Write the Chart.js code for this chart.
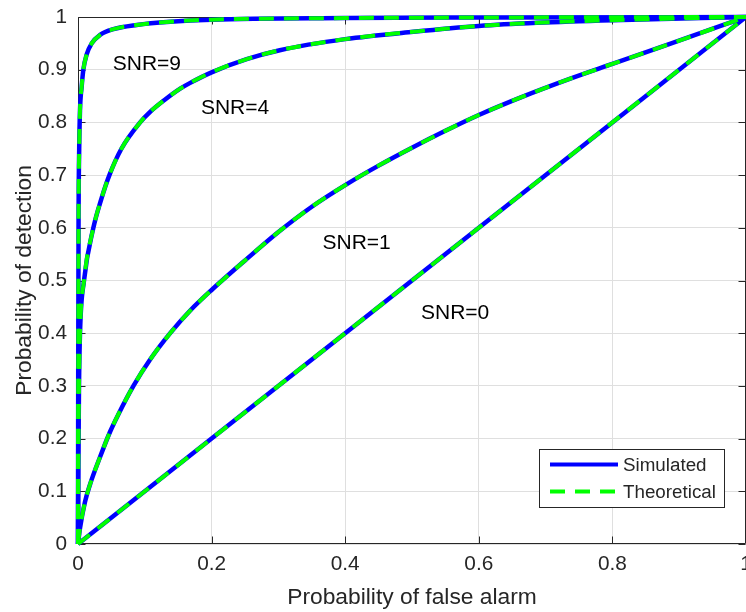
<!DOCTYPE html>
<html>
<head>
<meta charset="utf-8">
<script src="https://cdn.jsdelivr.net/npm/chart.js@4.4.1/dist/chart.umd.min.js"></script>
<style>
  html, body { margin: 0; padding: 0; background: #ffffff; }
  canvas { display: block; }
</style>
</head>
<body>
<canvas id="roc" width="746" height="612"></canvas>
<script>
// ROC curves of the detector: probability of detection against probability of false alarm
const snrLevels = [9, 4, 1, 0];

const pfaSnr9 = [0, 0.0003, 0.0008, 0.0018, 0.003, 0.0055, 0.008, 0.013, 0.0205, 0.033, 0.053, 0.088, 0.138, 0.2, 0.4, 0.6, 1];
const pdSnr9  = [0, 0.3, 0.6, 0.75, 0.823, 0.868, 0.9, 0.929, 0.95, 0.966, 0.977, 0.985, 0.991, 0.995, 0.998, 0.999, 1];

const pfaSnr4 = [0, 0.0005, 0.0015, 0.003, 0.009, 0.023, 0.035, 0.047, 0.065, 0.093, 0.108, 0.13, 0.153, 0.168, 0.2, 0.2525, 0.302, 0.4, 0.502, 0.6, 0.687, 0.8, 1];
const pdSnr4  = [0, 0.15, 0.3, 0.4, 0.5, 0.6, 0.655, 0.7, 0.75, 0.8, 0.82, 0.843, 0.864, 0.875, 0.895, 0.92, 0.937, 0.958, 0.972, 0.983, 0.989, 0.994, 1];

const pfaSnr1 = [0, 0.003, 0.0105, 0.018, 0.033, 0.048, 0.06, 0.083, 0.108, 0.138, 0.168, 0.2, 0.25, 0.3, 0.35, 0.4, 0.45, 0.5, 0.55, 0.6, 0.662, 0.737, 0.8, 0.886, 1];
const pdSnr1  = [0, 0.03, 0.08, 0.113, 0.165, 0.213, 0.245, 0.3, 0.35, 0.4, 0.443, 0.482, 0.538, 0.592, 0.64, 0.681, 0.718, 0.752, 0.784, 0.814, 0.847, 0.883, 0.911, 0.949, 1];

const pfaSnr0 = [0, 0.2, 0.4, 0.6, 0.8, 1];
const pdSnr0  = [0, 0.2, 0.4, 0.6, 0.8, 1];

const seriesNames = ['Simulated', 'Theoretical'];
const xTickLabels = ['0', '0.2', '0.4', '0.6', '0.8', '1'];
const yTickLabels = ['0', '0.1', '0.2', '0.3', '0.4', '0.5', '0.6', '0.7', '0.8', '0.9', '1'];
const xTitle = 'Probability of false alarm';
const yTitle = 'Probability of detection';

// curve annotations, anchored in data coordinates (left edge, vertical middle)
const snrLabelText = ['SNR=9', 'SNR=4', 'SNR=1', 'SNR=0'];
const snrLabelPfa  = [0.052, 0.184, 0.366, 0.5135];
const snrLabelPd   = [0.911, 0.826, 0.570, 0.438];

const curves = [
  { pfa: pfaSnr9, pd: pdSnr9 },
  { pfa: pfaSnr4, pd: pdSnr4 },
  { pfa: pfaSnr1, pd: pdSnr1 },
  { pfa: pfaSnr0, pd: pdSnr0 }
];

const FONT = "'Liberation Sans', Arial, Helvetica, sans-serif";
const AXIS_COLOR = '#262626';
const SIM_COLOR = '#0000ff';
const THEO_COLOR = '#00ff00';
const SIM_WIDTH = 4.5;
const THEO_WIDTH = 4;
const THEO_DASH = [15, 10];

const toPoints = c => c.pfa.map((x, i) => ({ x: x, y: c.pd[i] }));

const datasets = [];
curves.forEach((c, k) => {
  datasets.push({
    label: seriesNames[0] + ' SNR=' + snrLevels[k],
    data: toPoints(c),
    borderColor: SIM_COLOR,
    borderWidth: SIM_WIDTH,
    showLine: true,
    pointRadius: 0,
    cubicInterpolationMode: 'monotone',
    clip: false,
    order: 2
  });
});
curves.forEach((c, k) => {
  datasets.push({
    label: seriesNames[1] + ' SNR=' + snrLevels[k],
    data: toPoints(c),
    borderColor: THEO_COLOR,
    borderWidth: THEO_WIDTH,
    borderDash: THEO_DASH,
    showLine: true,
    pointRadius: 0,
    cubicInterpolationMode: 'monotone',
    clip: false,
    order: 1
  });
});

// axes box with inward tick marks on all four sides
const boxPlugin = {
  id: 'axesBox',
  beforeDatasetsDraw(chart) {
    const { ctx, chartArea: a, scales: { x, y } } = chart;
    const L = a.left + 0.5, R = a.right - 0.5, T = a.top + 0.5, B = a.bottom - 0.5;
    const tl = 7;
    ctx.save();
    ctx.strokeStyle = AXIS_COLOR;
    ctx.lineWidth = 1;
    ctx.beginPath();
    ctx.rect(L, T, R - L, B - T);
    x.ticks.forEach(t => {
      const px = Math.round(x.getPixelForValue(t.value)) + 0.5;
      ctx.moveTo(px, B); ctx.lineTo(px, B - tl);
      ctx.moveTo(px, T); ctx.lineTo(px, T + tl);
    });
    y.ticks.forEach(t => {
      const py = Math.round(y.getPixelForValue(t.value)) + 0.5;
      ctx.moveTo(L, py); ctx.lineTo(L + tl, py);
      ctx.moveTo(R, py); ctx.lineTo(R - tl, py);
    });
    ctx.stroke();
    ctx.restore();
  }
};

// SNR annotations and the legend
const overlayPlugin = {
  id: 'overlay',
  afterDraw(chart) {
    const { ctx, scales: { x, y } } = chart;
    ctx.save();
    ctx.fillStyle = '#000000';
    ctx.font = '21px ' + FONT;
    ctx.textAlign = 'left';
    ctx.textBaseline = 'middle';
    snrLabelText.forEach((s, i) => {
      ctx.fillText(s, x.getPixelForValue(snrLabelPfa[i]), y.getPixelForValue(snrLabelPd[i]));
    });

    // legend
    const bx = 539.5, by = 449.5, bw = 185, bh = 58;
    ctx.fillStyle = '#ffffff';
    ctx.fillRect(bx, by, bw, bh);
    ctx.strokeStyle = AXIS_COLOR;
    ctx.lineWidth = 1;
    ctx.strokeRect(bx, by, bw, bh);

    const rows = [
      { name: seriesNames[0], color: SIM_COLOR, width: SIM_WIDTH - 0.5, dash: [] },
      { name: seriesNames[1], color: THEO_COLOR, width: THEO_WIDTH, dash: THEO_DASH }
    ];
    rows.forEach((r, i) => {
      const ly = by + 15 + i * 27;
      ctx.beginPath();
      ctx.setLineDash(r.dash);
      ctx.strokeStyle = r.color;
      ctx.lineWidth = r.width;
      ctx.moveTo(550, ly);
      ctx.lineTo(618, ly);
      ctx.stroke();
      ctx.setLineDash([]);
      ctx.fillStyle = AXIS_COLOR;
      ctx.font = '18.8px ' + FONT;
      ctx.textAlign = 'left';
      ctx.textBaseline = 'middle';
      ctx.fillText(r.name, 623, ly + 1);
    });
    ctx.restore();
  }
};

new Chart(document.getElementById('roc'), {
  type: 'scatter',
  data: { datasets: datasets },
  options: {
    responsive: false,
    animation: false,
    devicePixelRatio: 1,
    layout: { padding: { top: 17, right: 0, bottom: 0, left: 0 } },
    plugins: {
      legend: { display: false },
      tooltip: { enabled: false }
    },
    scales: {
      x: {
        type: 'linear',
        min: 0,
        max: 1,
        border: { display: false },
        grid: { color: '#dfdfdf', lineWidth: 1, drawTicks: false },
        ticks: {
          stepSize: 0.2,
          padding: 8,
          maxRotation: 0,
          autoSkip: false,
          color: AXIS_COLOR,
          font: { family: FONT, size: 20.8 },
          callback: (v, i) => xTickLabels[i]
        },
        title: {
          display: true,
          text: xTitle,
          color: AXIS_COLOR,
          font: { family: FONT, size: 22.8, lineHeight: 1.2 },
          padding: { top: 0, bottom: 1 }
        },
        afterFit(s) { s.height = 68; s.paddingLeft = 0; s.paddingRight = 0; }
      },
      y: {
        type: 'linear',
        min: 0,
        max: 1,
        border: { display: false },
        grid: { color: '#dfdfdf', lineWidth: 1, drawTicks: false },
        ticks: {
          stepSize: 0.1,
          padding: 11,
          autoSkip: false,
          color: AXIS_COLOR,
          font: { family: FONT, size: 20.8 },
          callback: (v, i) => yTickLabels[i]
        },
        title: {
          display: true,
          text: yTitle,
          color: AXIS_COLOR,
          font: { family: FONT, size: 22.8, lineHeight: 1.2 },
          padding: { top: 11, bottom: 0 }
        },
        afterFit(s) { s.width = 78; s.paddingTop = 0; s.paddingBottom = 0; }
      }
    }
  },
  plugins: [boxPlugin, overlayPlugin]
});
</script>
</body>
</html>
